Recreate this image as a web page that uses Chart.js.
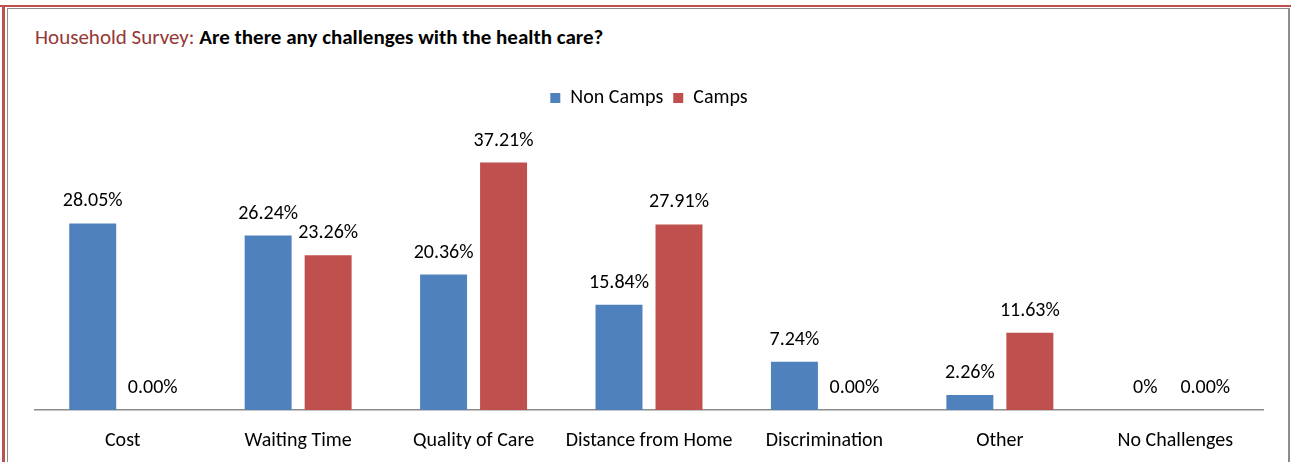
<!DOCTYPE html>
<html>
<head>
<meta charset="utf-8">
<script src="https://cdn.jsdelivr.net/npm/chart.js@4/dist/chart.umd.min.js"></script>
<style>
  body { margin: 0; background: #fff; }
  #wrap { position: relative; width: 1291px; height: 462px; overflow: hidden; background: #fff; }
  .line { position: absolute; }
  #title { position: absolute; left: 35px; top: 24px; font-family: Carlito, Calibri, Lato, sans-serif; font-size: 21px; color: #000; }
  #title .lead { color: #953735; }
  #title b { font-weight: bold; }
  canvas { position: absolute; left: 0; top: 0; }
</style>
</head>
<body>
<div id="wrap">
  <div class="line" style="left:0;top:5px;width:1291px;height:2px;background:#c0504d"></div>
  <div class="line" style="left:2px;top:5px;width:3px;height:462px;background:#c0504d"></div>
  <div class="line" style="left:7px;top:8px;width:1282px;height:1px;background:#8c8c8c"></div>
  <div class="line" style="left:7px;top:8px;width:1px;height:462px;background:#8c8c8c"></div>
  <div class="line" style="left:1288px;top:8px;width:2px;height:462px;background:#8c8c8c"></div>
  <div id="title"><span class="lead">Household Survey:</span> <b>Are there any challenges with the health care?</b></div>
  <canvas id="surveyChart" width="1291" height="486"></canvas>
</div>
<script>
const categories = ["Cost", "Waiting Time", "Quality of Care", "Distance from Home", "Discrimination", "Other", "No Challenges"];
const nonCamps = [28.05, 26.24, 20.36, 15.84, 7.24, 2.26, 0];
const camps = [0, 23.26, 37.21, 27.91, 0, 11.63, 0];
const nonCampsLabels = ["28.05%", "26.24%", "20.36%", "15.84%", "7.24%", "2.26%", "0%"];
const campsLabels = ["0.00%", "23.26%", "37.21%", "27.91%", "0.00%", "11.63%", "0.00%"];

const FONT = "Carlito, Calibri, Lato, sans-serif";

// etykiety nad słupkami
const barLabels = {
    id: "barLabels",
    afterDatasetsDraw(chart) {
        const ctx = chart.ctx;
        ctx.save();
        ctx.font = "20px " + FONT;
        ctx.fillStyle = "#000";
        ctx.textAlign = "center";
        ctx.textBaseline = "middle";
        chart.data.datasets.forEach((ds, i) => {
            const meta = chart.getDatasetMeta(i);
            meta.data.forEach((bar, j) => {
                ctx.fillText(ds.labelsText[j], bar.x, bar.y - 22);
            });
        });
        ctx.restore();
    }
};

// dodatkowy odstęp pod legendą
const legendGap = {
    id: "legendGap",
    beforeInit(chart) {
        const fit = chart.legend.fit;
        chart.legend.fit = function () {
            fit.bind(chart.legend)();
            this.height += 26;
        };
    }
};

new Chart(document.getElementById("surveyChart").getContext("2d"), {
    type: "bar",
    data: {
        labels: categories,
        datasets: [
            { label: "Non Camps", data: nonCamps, labelsText: nonCampsLabels, backgroundColor: "#4f81bd" },
            { label: "Camps", data: camps, labelsText: campsLabels, backgroundColor: "#c0504d" }
        ]
    },
    options: {
        responsive: false,
        animation: false,
        categoryPercentage: 0.684,
        barPercentage: 0.783,
        layout: { padding: { top: 78, left: 35, right: 28, bottom: 14 } },
        plugins: {
            legend: {
                position: "top",
                labels: { boxWidth: 10, boxHeight: 10, padding: 10, color: "#000", font: { family: FONT, size: 20 } }
            },
            tooltip: { enabled: false }
        },
        scales: {
            x: {
                grid: { display: true, drawOnChartArea: false, drawTicks: false },
                border: { color: "#8c8c8c", width: 1.5 },
                ticks: { padding: 19, color: "#000", font: { family: FONT, size: 20 } }
            },
            y: { display: false, min: 0, max: 40 }
        }
    },
    plugins: [barLabels, legendGap]
});
</script>
</body>
</html>
